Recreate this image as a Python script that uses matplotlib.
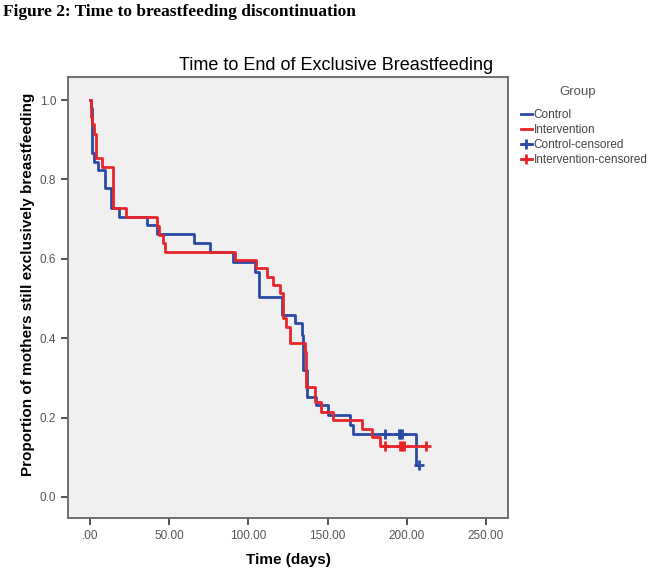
import numpy as np
import matplotlib.pyplot as plt
from matplotlib.lines import Line2D

plt.rcParams['font.family'] = ['Liberation Sans', 'DejaVu Sans']

# Kaplan-Meier steps (time in days, proportion surviving)
t_control = [0, 0.5, 1, 1.5, 2.5, 5.3, 9.5, 13.3, 18, 35.7, 42, 65.5, 75.8, 90.5,
             104, 106.7, 121, 129.4, 133.6, 134.7, 137, 143, 150.5, 164, 165.8, 206]
s_control = [1.0, 0.98, 0.91, 0.866, 0.845, 0.824, 0.778, 0.728, 0.706, 0.685, 0.662,
             0.639, 0.618, 0.593, 0.568, 0.505, 0.458, 0.437, 0.408, 0.32, 0.253, 0.232,
             0.207, 0.181, 0.159, 0.081]
end_control = 208

t_interv = [0, 0.5, 1.5, 2.5, 3.5, 7.4, 14.7, 23, 42, 43.8, 46.3, 47.3, 91.5, 105,
            111.5, 115.5, 120, 122, 124, 126, 135.7, 136.5, 142, 146, 153.6, 172, 178, 183]
s_interv = [1.0, 0.957, 0.94, 0.915, 0.855, 0.832, 0.728, 0.706, 0.682, 0.66, 0.64,
            0.618, 0.597, 0.577, 0.555, 0.534, 0.514, 0.451, 0.429, 0.388, 0.366, 0.278,
            0.24, 0.215, 0.194, 0.171, 0.15, 0.128]
end_interv = 212.5

cens_control_t = [186, 195, 196, 197, 208]
cens_control_s = [0.159, 0.159, 0.159, 0.159, 0.081]
cens_interv_t = [186, 196, 197, 198, 212.5]
cens_interv_s = [0.128, 0.128, 0.128, 0.128, 0.128]

xticks = [0, 50, 100, 150, 200, 250]
xticklabels = ['.00', '50.00', '100.00', '150.00', '200.00', '250.00']
yticks = [0.0, 0.2, 0.4, 0.6, 0.8, 1.0]

blue = '#2b4aa6'
red = '#e8252b'

fig = plt.figure(figsize=(6.5, 5.72), dpi=100)
ax = fig.add_axes([68/650, 1 - 518/572, 440/650, 441/572])
ax.set_facecolor('#f0f0f0')

ax.step(t_control + [end_control], s_control + [s_control[-1]], where='post',
        color=blue, lw=2.0)
ax.step(t_interv + [end_interv], s_interv + [s_interv[-1]], where='post',
        color=red, lw=2.0)
ax.plot(cens_control_t, cens_control_s, ls='none', marker='+', ms=7, mew=2, color=blue)
ax.plot(cens_interv_t, cens_interv_s, ls='none', marker='+', ms=7, mew=2, color=red)

ax.set_xlim(-13.9, 264)
ax.set_ylim(-0.053, 1.058)
ax.set_xticks(xticks)
ax.set_xticklabels(xticklabels)
ax.set_yticks(yticks)
ax.set_yticklabels([f'{v:.1f}' for v in yticks])
ax.tick_params(direction='out', length=5, width=1.2, color='#333333',
               labelcolor='#555555', labelsize=8.5)
for sp in ax.spines.values():
    sp.set_color('#666666')
    sp.set_linewidth(1.3)

ax.set_xlabel('Time (days)', fontsize=11, fontweight='bold', labelpad=8)
ax.set_ylabel('Proportion of mothers still exclusively breastfeeding', fontsize=11,
              fontweight='bold', va='center')
ax.yaxis.set_label_coords(-0.091, 0.53)

fig.text(336/650, 1 - 66/572, 'Time to End of Exclusive Breastfeeding',
         ha='center', va='center', fontsize=13)
fig.text(3/650, 1 - 12/572, 'Figure 2: Time to breastfeeding discontinuation',
         ha='left', va='center', fontsize=12.5, fontweight='bold', family='Liberation Serif')
fig.text(578/650, 1 - 92/572, 'Group', ha='center', va='center', fontsize=9.5,
         color='#555555')

handles = [Line2D([], [], color=blue, lw=2),
           Line2D([], [], color=red, lw=2),
           Line2D([], [], color=blue, lw=2, marker='+', ms=7, mew=2),
           Line2D([], [], color=red, lw=2, marker='+', ms=7, mew=2)]
labels = ['Control', 'Intervention', 'Control-censored', 'Intervention-censored']
leg = fig.legend(handles, labels, loc='upper left', bbox_to_anchor=(514/650, 1 - 102/572),
                 frameon=False, fontsize=8.5, handlelength=0.9, handletextpad=0.15,
                 labelspacing=0.25, borderaxespad=0.2)
for txt in leg.get_texts():
    txt.set_color('#444444')

fig.savefig('out.png', dpi=100)
